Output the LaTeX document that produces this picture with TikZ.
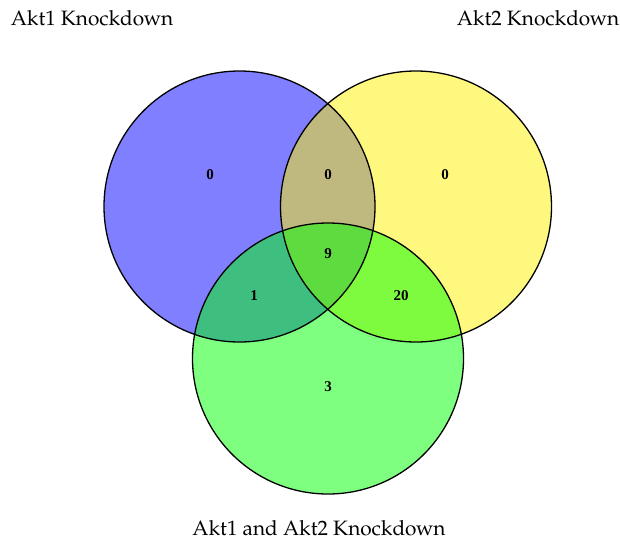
\documentclass[tikz,border=0pt]{standalone}
\usepackage{fontspec}
\setmainfont{TeX Gyre Pagella}
\newfontfamily\numfont{Liberation Serif}
\begin{document}
\begin{tikzpicture}[x=1pt,y=-1pt,
  setcirc/.style={draw=black,line width=1.3pt},
  countlbl/.style={font=\numfont\bfseries\fontsize{15}{17}\selectfont,inner sep=0pt},
  setlbl/.style={font=\fontsize{20.8}{24}\selectfont,inner sep=0pt}]
\useasboundingbox (0,0) rectangle (620,542);
\fill[blue,fill opacity=0.5] (239.5,206.5) circle (135.5);
\fill[yellow,fill opacity=0.5] (416,206.5) circle (135.5);
\fill[green,fill opacity=0.5] (328,358.5) circle (135.5);
\draw[setcirc] (239.5,206.5) circle (135.5);
\draw[setcirc] (416,206.5) circle (135.5);
\draw[setcirc] (328,358.5) circle (135.5);
\node[countlbl] (a) at (210,175) {0};
\node[countlbl] (ab) at (328,175) {0};
\node[countlbl] (b) at (445,175) {0};
\node[countlbl] (abc) at (328,254) {9};
\node[countlbl] (ac) at (254,296) {1};
\node[countlbl] (bc) at (401,296) {20};
\node[countlbl] (c) at (328,387) {3};
\node[setlbl] (la) at (92,18) {Akt1 Knockdown};
\node[setlbl] (lb) at (538,18) {Akt2 Knockdown};
\node[setlbl] (lc) at (319,528) {Akt1 and Akt2 Knockdown};
\end{tikzpicture}
\end{document}
